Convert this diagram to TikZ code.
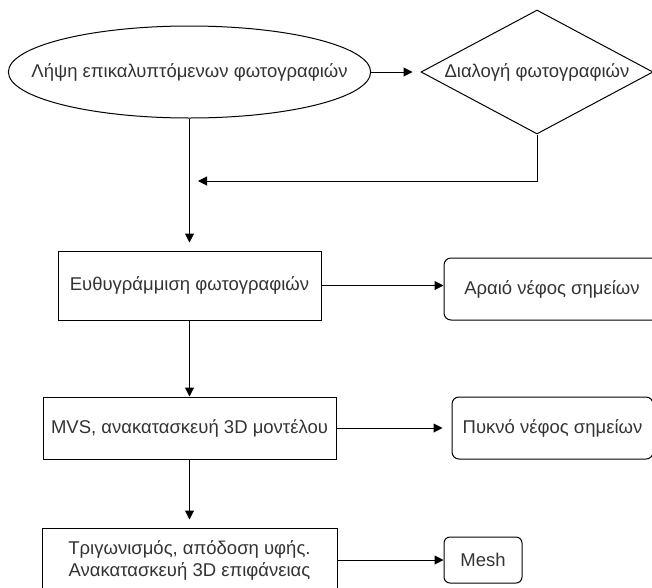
\documentclass[tikz,border=0pt]{standalone}
\usepackage{fontspec}
\setmainfont{Liberation Sans}
\usetikzlibrary{shapes.geometric,arrows.meta}

\begin{document}
\begin{tikzpicture}[x=1pt,y=-1pt,
    every node/.style={font=\fontsize{18.5}{22}\selectfont,text=black!80,inner sep=0pt},
    stage/.style={draw,line width=1pt,rectangle},
    result/.style={draw,line width=1pt,rectangle,rounded corners=7pt},
    arr/.style={-{Triangle[length=9pt,width=9pt]},line width=1pt}]
    \clip (0,0) rectangle (652,587);
    \node[draw,line width=1pt,ellipse,inner xsep=-30pt,minimum width=355pt,minimum height=92pt] (take) at (189.5,72) {Λήψη επικαλυπτόμενων φωτογραφιών};
    \node[draw,line width=1pt,diamond,aspect=1.87,minimum width=232pt,minimum height=124pt] (select) at (537,72) {Διαλογή φωτογραφιών};
    \node[stage,minimum width=263pt,minimum height=69pt] (align) at (189.5,285.5) {Ευθυγράμμιση φωτογραφιών};
    \node[result,minimum width=216pt,minimum height=62pt] (sparse) at (552,289) {Αραιό νέφος σημείων};
    \node[stage,minimum width=293pt,minimum height=62pt] (mvs) at (189.5,428) {MVS, ανακατασκευή 3D μοντέλου};
    \node[result,minimum width=201pt,minimum height=62pt] (dense) at (552.5,428) {Πυκνό νέφος σημείων};
    \node[stage,minimum width=295pt,minimum height=64pt,align=center] (surface) at (189.5,560) {Τριγωνισμός, απόδοση υφής.\\Ανακατασκευή 3D επιφάνειας};
    \node[result,minimum width=78pt,minimum height=46pt,rounded corners=6pt] (mesh) at (483,560) {Mesh};
    \coordinate (merge) at (198,181);

    \draw[arr,shorten >=8pt] (take.east) -- (select.west);
    \draw[arr,shorten >=8pt] (take.south) -- (align.north);
    \draw[arr] (select.south) |- (merge);
    \draw[arr] (align.east) -- (align.east -| sparse.west);
    \draw[arr] (align.south) -- (mvs.north);
    \draw[arr,shorten >=9pt] (mvs.east) -- (dense.west);
    \draw[arr,shorten >=8pt] (mvs.south) -- (surface.north);
    \draw[arr] (surface.east) -- (mesh.west);
\end{tikzpicture}
\end{document}
